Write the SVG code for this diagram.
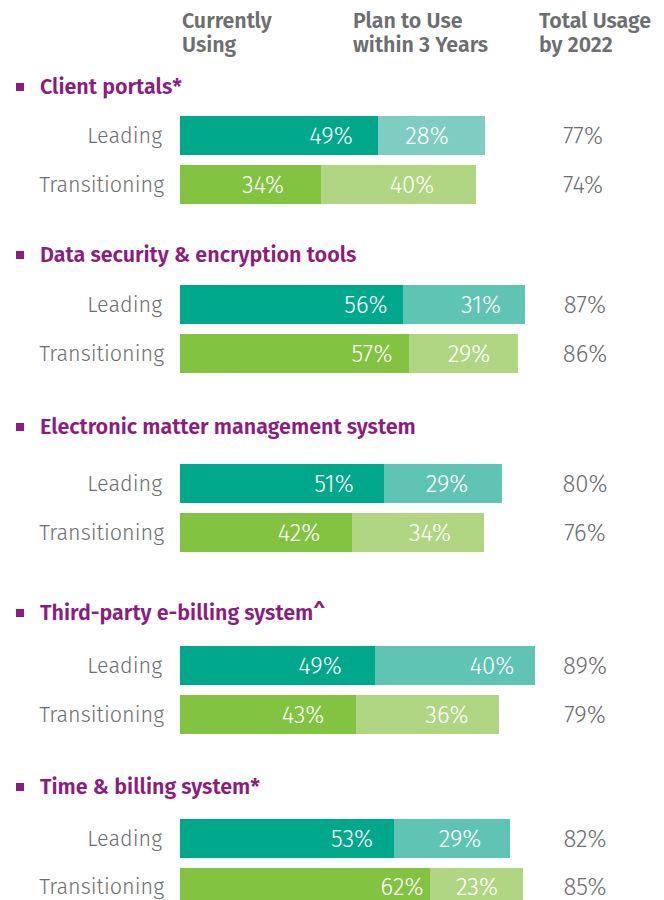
<svg xmlns="http://www.w3.org/2000/svg" width="664" height="900" viewBox="0 0 664 900">
<style>
.hdr{font-family:"Fira Sans","Lato","Liberation Sans",sans-serif;font-size:21.4px;font-weight:600;fill:#6d6e71}
.ttl{font-family:"Fira Sans","Lato","Liberation Sans",sans-serif;font-size:21.5px;font-weight:600;fill:#8c1d7f}
.lbl{font-family:"Fira Sans","Lato","Liberation Sans",sans-serif;font-size:21.6px;font-weight:300;fill:#6d6e71;text-anchor:end}
.in{font-family:"Fira Sans","Lato","Liberation Sans",sans-serif;font-size:24px;font-weight:300;fill:#ffffff;text-anchor:middle}
.tot{font-family:"Fira Sans","Lato","Liberation Sans",sans-serif;font-size:24px;font-weight:300;fill:#6d6e71;text-anchor:middle}
.dt{fill:#00a88b}.lt{fill:#60c4b4}.lt0{fill:#7fcdc0}.dg{fill:#82c341}.lg{fill:#b0d683}
.bul{fill:#8c1d7f}
</style>
<g id="header">
<text class="hdr" x="182" y="28">Currently</text>
<text class="hdr" x="182" y="52">Using</text>
<text class="hdr" x="353" y="28">Plan to Use</text>
<text class="hdr" x="353" y="52">within 3 Years</text>
<text class="hdr" x="539" y="28">Total Usage</text>
<text class="hdr" x="539" y="52">by 2022</text>
</g>
<g id="client-portals">
<rect class="bul" x="16" y="83" width="8" height="8"/>
<text class="ttl" x="40" y="94">Client portals*</text>
<text class="lbl" x="162" y="143">Leading</text>
<rect class="dt" x="180" y="116" width="198" height="39"/>
<rect class="lt0" x="378" y="116" width="107" height="39"/>
<text class="in" x="331" y="144">49%</text>
<text class="in" x="427" y="144">28%</text>
<text class="tot" x="583" y="144">77%</text>
<text class="lbl" x="164" y="192">Transitioning</text>
<rect class="dg" x="180" y="165" width="141" height="39"/>
<rect class="lg" x="321" y="165" width="155" height="39"/>
<text class="in" x="263" y="193">34%</text>
<text class="in" x="412" y="193">40%</text>
<text class="tot" x="583" y="193">74%</text>
</g>
<g id="data-security">
<rect class="bul" x="16" y="251" width="8" height="8"/>
<text class="ttl" x="40" y="262">Data security &amp; encryption tools</text>
<text class="lbl" x="162" y="312">Leading</text>
<rect class="dt" x="180" y="285" width="223" height="39"/>
<rect class="lt" x="403" y="285" width="122" height="39"/>
<text class="in" x="366" y="313">56%</text>
<text class="in" x="481" y="313">31%</text>
<text class="tot" x="585" y="313">87%</text>
<text class="lbl" x="164" y="361">Transitioning</text>
<rect class="dg" x="180" y="334" width="229" height="39"/>
<rect class="lg" x="409" y="334" width="109" height="39"/>
<text class="in" x="372" y="362">57%</text>
<text class="in" x="469" y="362">29%</text>
<text class="tot" x="585" y="362">86%</text>
</g>
<g id="electronic-matter">
<rect class="bul" x="16" y="423" width="8" height="8"/>
<text class="ttl" x="40" y="434">Electronic matter management system</text>
<text class="lbl" x="162" y="491">Leading</text>
<rect class="dt" x="180" y="464" width="204" height="39"/>
<rect class="lt" x="384" y="464" width="118" height="39"/>
<text class="in" x="334" y="492">51%</text>
<text class="in" x="447" y="492">29%</text>
<text class="tot" x="585" y="492">80%</text>
<text class="lbl" x="164" y="540">Transitioning</text>
<rect class="dg" x="180" y="513" width="172" height="39"/>
<rect class="lg" x="352" y="513" width="132" height="39"/>
<text class="in" x="299" y="541">42%</text>
<text class="in" x="430" y="541">34%</text>
<text class="tot" x="585" y="541">76%</text>
</g>
<g id="third-party">
<rect class="bul" x="16" y="609" width="8" height="8"/>
<text class="ttl" x="40" y="620">Third-party e-billing system^</text>
<text class="lbl" x="162" y="673">Leading</text>
<rect class="dt" x="180" y="646" width="195" height="39"/>
<rect class="lt" x="375" y="646" width="160" height="39"/>
<text class="in" x="320" y="674">49%</text>
<text class="in" x="492" y="674">40%</text>
<text class="tot" x="585" y="674">89%</text>
<text class="lbl" x="164" y="722">Transitioning</text>
<rect class="dg" x="180" y="695" width="176" height="39"/>
<rect class="lg" x="356" y="695" width="143" height="39"/>
<text class="in" x="303" y="723">43%</text>
<text class="in" x="447" y="723">36%</text>
<text class="tot" x="585" y="723">79%</text>
</g>
<g id="time-billing">
<rect class="bul" x="16" y="783" width="8" height="8"/>
<text class="ttl" x="40" y="794">Time &amp; billing system*</text>
<text class="lbl" x="162" y="846">Leading</text>
<rect class="dt" x="180" y="819" width="214" height="39"/>
<rect class="lt" x="394" y="819" width="116" height="39"/>
<text class="in" x="352" y="847">53%</text>
<text class="in" x="460" y="847">29%</text>
<text class="tot" x="585" y="847">82%</text>
<text class="lbl" x="164" y="894">Transitioning</text>
<rect class="dg" x="180" y="868" width="250" height="39"/>
<rect class="lg" x="430" y="868" width="93" height="39"/>
<text class="in" x="402" y="895">62%</text>
<text class="in" x="477" y="895">23%</text>
<text class="tot" x="585" y="895">85%</text>
</g>
</svg>
